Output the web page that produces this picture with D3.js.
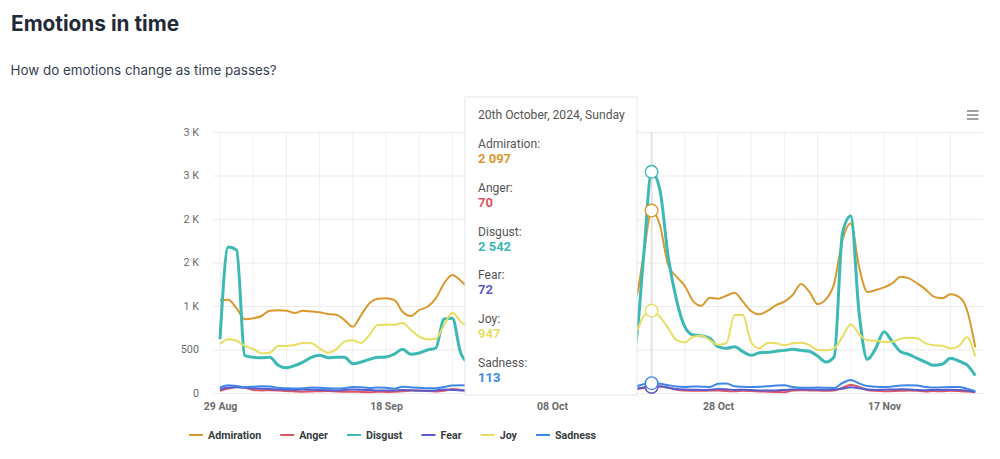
<!DOCTYPE html>
<html>
<head>
<meta charset="utf-8">
<script src="https://cdn.jsdelivr.net/npm/d3@7"></script>
<style>
    html, body { margin: 0; padding: 0; background: #fff; }
    svg { display: block; }
    text { font-family: Roboto, sans-serif; }
    .title { font-family: Inter, sans-serif; font-size: 20.8px; font-weight: 700; fill: #1f2937; }
    .subtitle { font-family: Inter, sans-serif; font-size: 13.4px; fill: #374151; }
    .y-axis text { font-size: 10.8px; fill: #6b6b6b; }
    .x-axis text { font-size: 10.5px; font-weight: 700; fill: #6b6b6b; }
    .legend text { font-size: 10.7px; font-weight: 700; fill: #373d3f; }
    .tip-date, .tip-label { font-size: 12.1px; fill: #555; }
    .tip-value { font-size: 13px; font-weight: 700; }
</style>
</head>
<body>
<svg id="chart" width="1000" height="459"></svg>
<script>
    var names = [ "Admiration", "Anger", "Disgust", "Fear", "Joy", "Sadness" ];
    var colors = [ "#d9992f", "#de5563", "#3cb8b5", "#5a5ccb", "#e8de62", "#3f86ea" ];

    var startDate = new Date( Date.UTC( 2024, 7, 29 ) );
    var yTicks = [ 0, 500, 1000, 1500, 2000, 2500, 3000 ];
    var yTickLabels = [ "0", "500", "1 K", "2 K", "2 K", "3 K", "3 K" ];
    var hoverIndex = 52;

    // one value per day (days 30-49 sit behind the tooltip)
    var admiration = [
        1065, 1072, 973, 847, 858, 885, 946, 950, 946, 919,
        946, 938, 927, 908, 900, 838, 762, 896, 1030, 1084,
        1088, 1069, 934, 885, 954, 992, 1088, 1260, 1356, 1291,
        1200, 1150, 1180, 1240, 1300, 1210, 1120, 1090, 1150, 1230,
        1180, 1090, 1020, 980, 1040, 1110, 1190, 1230, 1160, 1080,
        1080, 1566, 2097, 1930, 1471, 1337, 1230, 1057, 1003, 1095,
        1084, 1118, 1153, 1050, 940, 904, 946, 1011, 1050, 1126,
        1252, 1164, 1022, 1077, 1260, 1758, 1949, 1451, 1160, 1183,
        1214, 1260, 1337, 1318, 1260, 1191, 1107, 1088, 1134, 1107, 954, 525
    ];
    var anger = [
        25, 50, 70, 60, 35, 30, 32, 30, 22, 18,
        15, 18, 20, 22, 18, 15, 15, 12, 10, 15,
        12, 15, 20, 28, 30, 22, 18, 25, 45, 35,
        25, 20, 18, 22, 25, 20, 18, 22, 25, 20,
        18, 22, 25, 28, 22, 18, 20, 25, 30, 38,
        45, 58, 70, 78, 62, 38, 28, 26, 25, 28,
        30, 22, 20, 25, 22, 18, 15, 12, 10, 30,
        32, 30, 28, 25, 28, 60, 95, 70, 35, 25,
        20, 22, 25, 28, 25, 18, 22, 20, 25, 22, 18, 8
    ];
    var disgust = [
        620, 1678, 1643, 430, 410, 405, 410, 320, 290, 315,
        355, 410, 435, 405, 410, 410, 337, 356, 387, 410,
        414, 448, 502, 444, 460, 494, 517, 850, 858, 460,
        350, 360, 420, 460, 440, 400, 380, 410, 470, 520,
        500, 460, 420, 430, 480, 520, 500, 470, 480, 500,
        540, 1528, 2542, 2333, 1565, 1068, 762, 666, 658, 630,
        532, 513, 532, 475, 433, 463, 467, 479, 490, 502,
        490, 479, 425, 356, 417, 1838, 2034, 919, 387, 513,
        705, 590, 475, 444, 398, 356, 318, 330, 398, 368, 322, 199
    ];
    var fear = [
        40, 62, 65, 60, 55, 50, 45, 40, 38, 35,
        40, 38, 35, 32, 30, 35, 40, 38, 35, 30,
        28, 30, 35, 32, 25, 25, 30, 40, 35, 30,
        28, 30, 35, 32, 30, 28, 30, 35, 32, 30,
        28, 32, 35, 38, 32, 30, 32, 35, 40, 45,
        50, 62, 72, 75, 60, 45, 40, 38, 35, 38,
        45, 42, 35, 38, 35, 30, 28, 30, 35, 40,
        42, 40, 38, 38, 40, 50, 65, 55, 40, 35,
        38, 40, 42, 40, 35, 32, 35, 35, 38, 35, 28, 12
    ];
    var joy = [
        563, 617, 601, 540, 506, 456, 463, 540, 540, 552,
        575, 571, 513, 463, 502, 590, 605, 575, 666, 781,
        785, 785, 804, 724, 647, 617, 624, 781, 923, 820,
        760, 700, 640, 610, 650, 700, 740, 690, 620, 580,
        600, 640, 700, 760, 720, 650, 620, 610, 640, 680,
        690, 877, 947, 877, 743, 609, 583, 647, 658, 609,
        555, 571, 896, 896, 580, 513, 578, 571, 552, 571,
        578, 552, 494, 490, 513, 647, 789, 678, 605, 601,
        586, 590, 624, 635, 628, 571, 548, 544, 513, 540, 640, 417
    ];
    var sadness = [
        65, 90, 80, 68, 72, 78, 75, 60, 55, 52,
        55, 62, 60, 55, 52, 55, 70, 65, 58, 62,
        60, 50, 72, 65, 60, 55, 55, 70, 85, 90,
        85, 75, 70, 65, 75, 80, 70, 65, 70, 75,
        70, 65, 60, 70, 75, 80, 75, 70, 72, 75,
        75, 100, 113, 105, 90, 75, 70, 75, 72, 70,
        105, 110, 78, 72, 70, 72, 78, 85, 88, 68,
        60, 60, 62, 60, 58, 115, 150, 110, 80, 72,
        68, 75, 85, 90, 85, 70, 62, 65, 68, 68, 50, 20
    ];
    var series = [ admiration, anger, disgust, fear, joy, sadness ];
    var lineWidths = [ 2, 2, 3, 2, 2, 2 ];

    var svg = d3.select( "#chart" );

    svg.append( "text" ).attr( "class", "title" )
        .attr( "x", 11 ).attr( "y", 31 ).text( "Emotions in time" );
    svg.append( "text" ).attr( "class", "subtitle" )
        .attr( "x", 10.5 ).attr( "y", 75 ).text( "How do emotions change as time passes?" );

    var dayAt = function ( i ) { return d3.utcDay.offset( startDate, i ) };
    var x = d3.scaleUtc().domain( [ startDate, dayAt( 92 ) ] ).range( [ 220, 983.6 ] );
    var y = d3.scaleLinear().domain( [ 0, 3000 ] ).range( [ 393, 132 ] );

    // grid: vertical line every 4 days, labels every 20
    var grid = svg.append( "g" );
    grid.selectAll( "line.v" )
        .data( d3.range( 0, 92, 4 ) )
        .enter().append( "line" )
        .attr( "class", "v" )
        .attr( "x1", function ( d ) { return x( dayAt( d ) ) } )
        .attr( "x2", function ( d ) { return x( dayAt( d ) ) } )
        .attr( "y1", y( 3000 ) ).attr( "y2", y( 0 ) )
        .attr( "stroke", "#f0f0f0" );

    var yAxis = d3.axisLeft( y )
        .tickValues( yTicks )
        .tickSize( 7 )
        .tickPadding( 6 )
        .tickFormat( function ( d, i ) { return yTickLabels[ i ] } );
    var gy = svg.append( "g" ).attr( "class", "y-axis" )
        .attr( "transform", "translate(220,0)" )
        .call( yAxis );
    gy.select( ".domain" ).remove();
    gy.selectAll( ".tick line" ).attr( "x2", 763 ).attr( "x1", -7 ).attr( "stroke", "#ebebeb" );
    gy.selectAll( ".tick text" ).attr( "x", -21 );

    var xAxis = d3.axisBottom( x )
        .tickValues( d3.range( 0, 92, 20 ).map( dayAt ) )
        .tickSize( 0 )
        .tickPadding( 10 )
        .tickFormat( d3.utcFormat( "%d %b" ) );
    var gx = svg.append( "g" ).attr( "class", "x-axis" )
        .attr( "transform", "translate(0,393)" )
        .call( xAxis );
    gx.select( ".domain" ).remove();

    // crosshair
    svg.append( "line" )
        .attr( "x1", x( dayAt( hoverIndex ) ) ).attr( "x2", x( dayAt( hoverIndex ) ) )
        .attr( "y1", y( 3000 ) ).attr( "y2", y( 0 ) )
        .attr( "stroke", "#e2e2e2" ).attr( "stroke-width", 2 );

    var line = d3.line()
        .x( function ( d, i ) { return x( dayAt( i ) ) } )
        .y( function ( d ) { return y( d ) } )
        .curve( d3.curveMonotoneX );

    svg.append( "g" ).selectAll( "path" )
        .data( series )
        .enter().append( "path" )
        .attr( "d", line )
        .attr( "fill", "none" )
        .attr( "stroke-linejoin", "round" )
        .attr( "stroke", function ( d, i ) { return colors[ i ] } )
        .attr( "stroke-width", function ( d, i ) { return lineWidths[ i ] } );

    // hover markers
    svg.append( "g" ).selectAll( "circle" )
        .data( series )
        .enter().append( "circle" )
        .attr( "cx", x( dayAt( hoverIndex ) ) )
        .attr( "cy", function ( d ) { return y( d[ hoverIndex ] ) } )
        .attr( "r", 6.3 )
        .attr( "fill", "#fff" )
        .attr( "stroke-width", 1.4 )
        .attr( "stroke", function ( d, i ) { return colors[ i ] } );

    // hamburger menu
    svg.append( "g" ).selectAll( "line" )
        .data( [ 111, 115, 119 ] )
        .enter().append( "line" )
        .attr( "x1", 967 ).attr( "x2", 978.5 )
        .attr( "y1", function ( d ) { return d } )
        .attr( "y2", function ( d ) { return d } )
        .attr( "stroke", "#8a8a8a" ).attr( "stroke-width", 1.6 );

    // legend, laid out from the text widths
    var legend = svg.append( "g" ).attr( "class", "legend" );
    var lx = 189;
    names.forEach( function ( name, i ) {
        legend.append( "line" )
            .attr( "x1", lx ).attr( "x2", lx + 14 )
            .attr( "y1", 435 ).attr( "y2", 435 )
            .attr( "stroke", colors[ i ] ).attr( "stroke-width", 2 );
        var t = legend.append( "text" )
            .attr( "x", lx + 19 ).attr( "y", 439 ).text( name );
        lx += 19 + t.node().getComputedTextLength() + 19;
    });

    // tooltip
    var tip = svg.append( "g" );
    tip.append( "rect" )
        .attr( "x", 465 ).attr( "y", 97 )
        .attr( "width", 172 ).attr( "height", 298 )
        .attr( "fill", "#fff" ).attr( "stroke", "#e6e6e6" );
    tip.append( "text" ).attr( "class", "tip-date" )
        .attr( "x", 478 ).attr( "y", 119 )
        .text( d3.utcFormat( "%-dth %B, %Y, %A" )( dayAt( hoverIndex ) ) );
    var thousands = d3.formatLocale( { thousands: " ", grouping: [ 3 ], decimal: ".", currency: [ "", "" ] } ).format( "," );
    names.forEach( function ( name, i ) {
        var top = 148 + i * 43.8;
        tip.append( "text" ).attr( "class", "tip-label" )
            .attr( "x", 478 ).attr( "y", top ).text( name + ":" );
        tip.append( "text" ).attr( "class", "tip-value" )
            .attr( "x", 478 ).attr( "y", top + 15 )
            .attr( "fill", colors[ i ] )
            .text( thousands( series[ i ][ hoverIndex ] ) );
    });
</script>
</body>
</html>
